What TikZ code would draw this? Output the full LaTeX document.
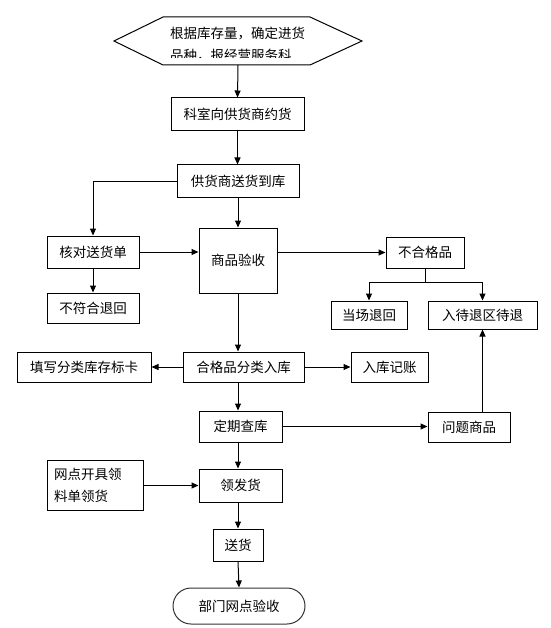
\documentclass[tikz,border=0pt]{standalone}
\usepackage{fontspec}
\usepackage{tikz}
\usetikzlibrary{arrows.meta}
\newfontfamily\cjk{Noto Sans CJK SC}

\tikzset{
  box/.style={draw, line width=1pt, inner sep=0pt, font=\cjk\fontsize{13.5}{22}\selectfont},
  arr/.style={line width=1pt, -{Triangle[length=7pt,width=6pt]}},
  ln/.style={line width=1pt}
}

\begin{document}
\begin{tikzpicture}[x=1pt,y=1pt,yscale=-1,xscale=1]
\useasboundingbox (0,0) rectangle (550,628);

%Hexagon
\draw [ln] (114,41) -- (163,17) -- (310,17) -- (362,41) -- (310,65) -- (163,65) -- cycle ;
\node [inner sep=0pt, minimum width=248pt, minimum height=48pt] (plan) at (238,41) {};
% Text Node
\begin{scope}
\clip (114,17) rectangle (362,58);
\node [anchor=north west, inner sep=0pt, align=left, font=\cjk\fontsize{13.5}{22}\selectfont] (plantxt) at (170,27) {根据库存量，确定进货\\品种，报经营服务科};
\end{scope}

%Rectangles
\node [box, minimum width=133pt, minimum height=33pt] (order) at (237.5,114.5) {科室向供货商约货};
\node [box, minimum width=122pt, minimum height=33pt] (deliver) at (238,181.5) {供货商送货到库};
\node [box, minimum width=92pt, minimum height=32pt] (check) at (93,252) {核对送货单};
\node [box, minimum width=78pt, minimum height=65pt] (inspect) at (238,260.5) {商品验收};
\node [box, minimum width=92pt, minimum height=30pt] (reject) at (93,308) {不符合退回};
\node [box, minimum width=78pt, minimum height=31pt] (bad) at (425,252.5) {不合格品};
\node [box, minimum width=76pt, minimum height=28pt] (now) at (369,315) {当场退回};
\node [box, minimum width=109pt, minimum height=28pt] (wait) at (482.5,315) {入待退区待退};
\node [box, minimum width=134pt, minimum height=30pt] (card) at (84,367) {填写分类库存标卡};
\node [box, minimum width=121pt, minimum height=30pt] (store) at (243.5,367) {合格品分类入库};
\node [box, minimum width=77pt, minimum height=30pt] (book) at (389.5,367) {入库记账};
\node [box, minimum width=83pt, minimum height=31pt] (audit) at (240.5,426.5) {定期查库};
\node [box, minimum width=82pt, minimum height=30pt] (issue) at (469,427) {问题商品};
\node [box, minimum width=96pt, minimum height=50pt, align=left, text width=82pt] (req) at (95,485) {网点开具领\\料单领货};
\node [box, minimum width=83pt, minimum height=33pt] (give) at (240.5,485.5) {领发货};
\node [box, minimum width=50pt, minimum height=32pt] (ship) at (238,545) {送货};
%Rounded Rectangle
\node [box, minimum width=132pt, minimum height=36pt, rounded corners=18pt, draw=black!80] (accept) at (239,606) {部门网点验收};

\coordinate (fork) at (425,282);

%Connectors
\draw [arr] (plan.south) -- (order.north);
\draw [arr] (order.south) -- (order.south |- deliver.north);
\draw [arr] (deliver.west) -| (check.north);
\draw [arr] (deliver.south) -- (deliver.south |- inspect.north);
\draw [arr] (check.east) -- (check.east -| inspect.west);
\draw [arr] (check.south) -- (reject.north);
\draw [arr] (bad.west -| inspect.east) -- (bad.west);
\draw [ln] (bad.south) -- (fork);
\draw [arr] (fork) -| (now.north);
\draw [arr] (fork) -| (wait.north);
\draw [arr] (inspect.south) -- (inspect.south |- store.north);
\draw [arr] (store.west) -- (card.east);
\draw [arr] (store.east) -- (book.west);
\draw [arr] (inspect.south |- store.south) -- (inspect.south |- audit.north);
\draw [arr] (audit.east) -- (audit.east -| issue.west);
\draw [arr] (wait.south |- issue.north) -- (wait.south);
\draw [arr] (audit.south -| inspect.south) -- (inspect.south |- give.north);
\draw [arr] (req.east |- give.west) -- (give.west);
\draw [arr] (give.south -| ship.north) -- (ship.north);
\draw [arr] (ship.south) -- (accept.north);
\end{tikzpicture}
\end{document}
